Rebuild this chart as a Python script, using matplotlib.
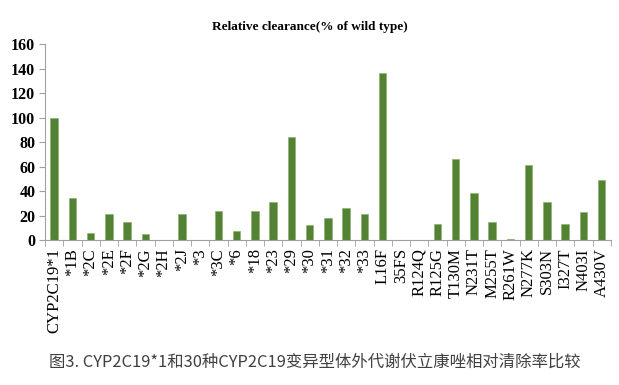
import numpy as np
import matplotlib.pyplot as plt

# relative clearance of each CYP2C19 variant (% of wild type)
variants = ['CYP2C19*1', '*1B', '*2C', '*2E', '*2F', '*2G', '*2H', '*2J', '*3', '*3C',
            '*6', '*18', '*23', '*29', '*30', '*31', '*32', '*33', 'L16F', '35FS',
            'R124Q', 'R125G', 'T130M', 'N231T', 'M255T', 'R261W', 'N277K', 'S303N',
            'I327T', 'N403I', 'A430V']
clearance = [100, 34, 6, 21, 15, 5, 0, 21, 0, 24,
             7, 24, 31, 84, 12, 18, 26.5, 21, 136, 0,
             0, 13, 66, 38, 15, 1, 61, 31, 13, 22.5, 49]
y_ticks = [0, 20, 40, 60, 80, 100, 120, 140, 160]

serif = ['Liberation Serif', 'DejaVu Serif']
fig = plt.figure(figsize=(6.19, 3.85), dpi=100)
ax = fig.add_axes([0.0727, 0.3766, 0.914, 0.5091])

x = np.arange(len(variants))
ax.bar(x, clearance, width=0.42, color='#548235', edgecolor='#8db36e', linewidth=0.5)

ax.set_xlim(-0.5, len(variants) - 0.5)
ax.set_ylim(0, 160)
ax.set_yticks(y_ticks)
ax.set_yticklabels([str(v) for v in y_ticks], family=serif, fontsize=11.5, fontweight='bold')

# labels at bar centres, tick marks on the category borders
ax.set_xticks(x)
ax.set_xticklabels(variants, rotation=90, family=serif, fontsize=12)
ax.tick_params(axis='x', which='major', length=0, pad=6)
ax.set_xticks(np.arange(len(variants) + 1) - 0.5, minor=True)
ax.tick_params(axis='x', which='minor', length=4, color='#a0a0a0', direction='out')
ax.tick_params(axis='y', length=4, color='#a0a0a0', direction='out', pad=3)

for side in ['top', 'right']:
    ax.spines[side].set_visible(False)
for side in ['left', 'bottom']:
    ax.spines[side].set_color('#a0a0a0')
    ax.spines[side].set_linewidth(0.8)

fig.text(0.5, 0.93, 'Relative clearance(% of wild type)', ha='center', va='center',
         family=serif, fontsize=9.5, fontweight='bold')
fig.text(0.508, 0.058, '图3. CYP2C19*1和30种CYP2C19变异型体外代谢伏立康唑相对清除率比较',
         ha='center', va='center', family=['Noto Sans CJK SC', 'DejaVu Sans'],
         fontsize=11.8, color='#404040')

fig.savefig('out.png', dpi=100)
